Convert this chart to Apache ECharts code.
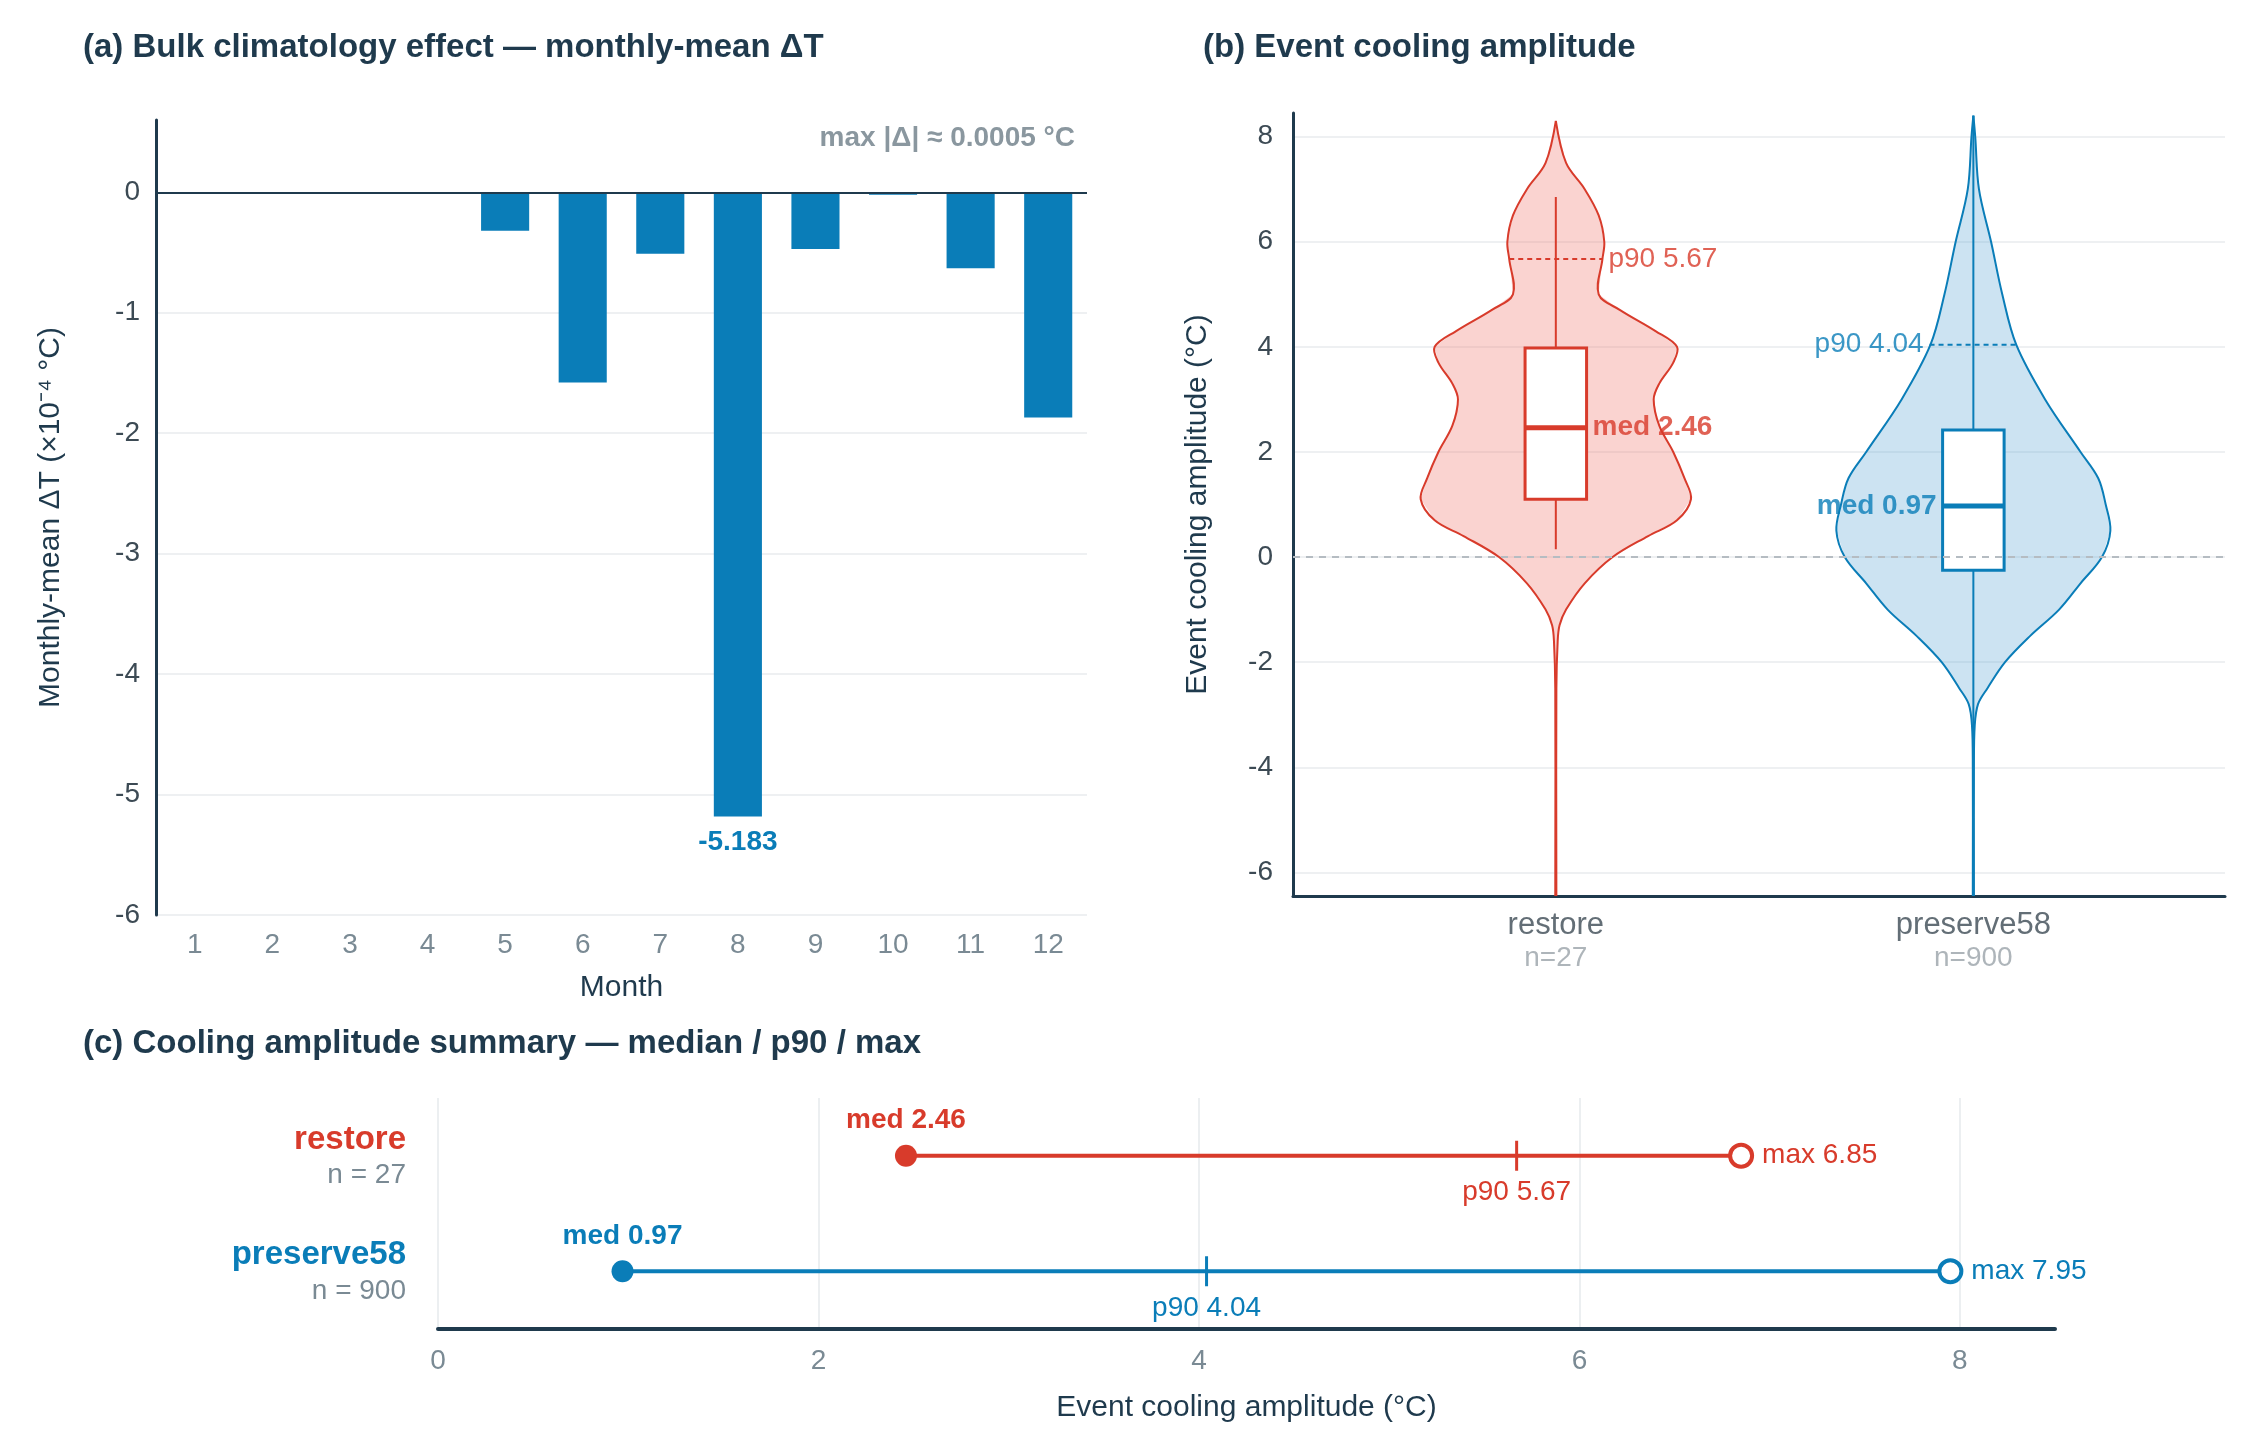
<!DOCTYPE html>
<html>
<head>
<meta charset="utf-8">
<script src="https://cdn.jsdelivr.net/npm/echarts@6/dist/echarts.min.js"></script>
<style>html,body{margin:0;background:#fff}#main{width:2255px;height:1432px}</style>
</head>
<body>
<div id="main"></div>
<script>
// panel (a)
var months = ['1','2','3','4','5','6','7','8','9','10','11','12'];
var monthlyDelta = [0, 0, 0, -0.01, -0.32, -1.58, -0.51, -5.183, -0.47, -0.02, -0.63, -1.87];
var aTicks = [-6, -5, -4, -3, -2, -1, 0];

// panel (b) violins: y positions and half widths (x-axis units)
var restoreY = [8.3,7.5,7,6.5,6,5.67,5,4.7,4.3,4,3.7,3.3,3,2.5,2,1.5,1.1,0.7,0.4,0,-0.5,-1,-1.3,-1.6,-2.5,-6.45];
var restoreW = [0,.011,.031,.046,.052,.050,.046,.069,.107,.130,.126,.111,.105,.111,.126,.138,.145,.130,.099,.061,.031,.011,.004,.002,.0006,.0006];
var preserveY = [8.4,8,7,6,5,4.04,3,2,1.5,1,0.5,0,-0.5,-1,-1.5,-2,-2.5,-2.8,-3.2,-4,-6.45];
var preserveW = [0,.002,.006,.019,.031,.046,.077,.115,.134,.142,.147,.138,.115,.092,.061,.034,.015,.005,.0015,.0006,.0006];
var groups = ['restore', 'preserve58'];
var groupN = [27, 900];
var groupPos = [0.282, 0.73];
var q1 = [1.1, -0.25];
var q3 = [3.98, 2.42];
var med = [2.46, 0.97];
var p90 = [5.67, 4.04];
var maxv = [6.85, 7.95];
var whiskLo = [0.15, -6.45];
var whiskHi = [6.85, 8.4];
var p90Half = [0.05, 0.047];
var bTicks = [-6, -4, -2, 0, 2, 4, 6, 8];
var cTicks = [0, 2, 4, 6, 8];

var RED = '#d83b2b', BLUE = '#0a7db8', DARK = '#1f3a4d', GREY = '#7a8a94';
var colors = [RED, BLUE];
var fills = ['rgba(240,130,120,0.35)', 'rgba(100,170,215,0.33)'];
var violins = [[restoreY, restoreW], [preserveY, preserveW]];
var FONT = '"Liberation Sans", Arial, sans-serif';

var chart = echarts.init(document.getElementById('main'));

function violinItem(params, api) {
    var i = params.dataIndex;
    var ys = violins[i][0], ws = violins[i][1], c = groupPos[i];
    var right = [], left = [];
    for (var k = 0; k < ys.length; k++) right.push(api.coord([c + ws[k], ys[k]]));
    for (var k = ys.length - 1; k >= 0; k--) left.push(api.coord([c - ws[k], ys[k]]));
    var bh = 0.033;
    var b0 = api.coord([c - bh, q3[i]]), b1 = api.coord([c + bh, q1[i]]);
    var m0 = api.coord([c - bh, med[i]]), m1 = api.coord([c + bh, med[i]]);
    var pl = api.coord([c - p90Half[i], p90[i]]), pr = api.coord([c + p90Half[i], p90[i]]);
    var wl = api.coord([c, whiskLo[i]]), wh = api.coord([c, whiskHi[i]]);
    var col = colors[i];
    return {
        type: 'group',
        children: [
            {type: 'polygon', shape: {points: right.concat(left)}, style: {fill: fills[i], stroke: null}},
            {type: 'polyline', shape: {points: right, smooth: 0.35}, style: {fill: null, stroke: col, lineWidth: 2}},
            {type: 'polyline', shape: {points: left, smooth: 0.35}, style: {fill: null, stroke: col, lineWidth: 2}},
            {type: 'line', shape: {x1: wl[0], y1: wl[1], x2: wh[0], y2: wh[1]}, style: {stroke: col, lineWidth: 2}},
            {type: 'line', shape: {x1: pl[0], y1: pl[1], x2: pr[0], y2: pr[1]}, style: {stroke: col, lineWidth: 2, lineDash: [5, 4]}},
            {type: 'rect', shape: {x: b0[0], y: b0[1], width: b1[0] - b0[0], height: b1[1] - b0[1]}, style: {fill: '#fff', stroke: col, lineWidth: 3}},
            {type: 'line', shape: {x1: m0[0], y1: m0[1], x2: m1[0], y2: m1[1]}, style: {stroke: col, lineWidth: 5}}
        ]
    };
}

var titleStyle = {fontSize: 33, fontWeight: 'bold', color: DARK, fontFamily: FONT};
var tickLabel = {fontSize: 28, color: GREY, fontFamily: FONT};
var nameStyle = {fontSize: 30, color: DARK, fontFamily: FONT};

var series = [];
series.push({
    type: 'bar', xAxisIndex: 0, yAxisIndex: 0, data: monthlyDelta, barWidth: '62%',
    itemStyle: {color: BLUE},
    label: {
        show: true, position: 'bottom', distance: 12,
        formatter: function (p) { return p.dataIndex === 7 ? p.value.toFixed(3) : ''; },
        fontSize: 28, fontWeight: 'bold', color: BLUE, fontFamily: FONT
    },
    markLine: {silent: true, symbol: 'none', label: {show: false}, lineStyle: {color: DARK, type: 'solid', width: 2}, data: [{yAxis: 0}]}
});
series.push({
    type: 'custom', xAxisIndex: 1, yAxisIndex: 1, renderItem: violinItem, data: [0, 1], z: 3,
    markLine: {silent: true, symbol: 'none', label: {show: false}, lineStyle: {color: '#b5bcc2', type: [7, 6], width: 2}, data: [{yAxis: 0}]}
});
// panel b labels
series.push({
    type: 'scatter', xAxisIndex: 1, yAxisIndex: 1, symbolSize: 0, z: 5,
    data: [
        {value: [groupPos[0] + 0.033, med[0]], label: {position: 'right', formatter: 'med ' + med[0].toFixed(2), color: RED, fontWeight: 'bold'}},
        {value: [groupPos[1] - 0.033, med[1]], label: {position: 'left', formatter: 'med ' + med[1].toFixed(2), color: BLUE, fontWeight: 'bold'}},
        {value: [groupPos[0] + p90Half[0], p90[0]], label: {position: 'right', formatter: 'p90 ' + p90[0].toFixed(2), color: RED}},
        {value: [groupPos[1] - p90Half[1], p90[1]], label: {position: 'left', formatter: 'p90 ' + p90[1].toFixed(2), color: BLUE}}
    ],
    label: {show: true, distance: 6, fontSize: 28, fontFamily: FONT}
});
series.push({
    type: 'scatter', xAxisIndex: 1, yAxisIndex: 1, symbolSize: 0,
    data: groups.map(function (g, i) { return {value: [groupPos[i], -6.45], name: g}; }),
    label: {
        show: true, position: 'bottom', distance: 12, fontFamily: FONT,
        formatter: function (p) { return '{a|' + groups[p.dataIndex] + '}\n{b|n=' + groupN[p.dataIndex] + '}'; },
        rich: {a: {fontSize: 31, color: '#3c4a54', lineHeight: 34, fontFamily: FONT}, b: {fontSize: 28, color: '#9aa3a9', lineHeight: 32, fontFamily: FONT}}
    }
});
// panel c
for (var i = 0; i < 2; i++) {
    var col = colors[i], g = groups[i];
    series.push({
        type: 'line', xAxisIndex: 2, yAxisIndex: 2, data: [[med[i], g], [maxv[i], g]],
        symbol: 'none', lineStyle: {color: col, width: 4}, z: 2
    });
    series.push({
        type: 'scatter', xAxisIndex: 2, yAxisIndex: 2, z: 4,
        data: [
            {value: [med[i], g], symbol: 'circle', symbolSize: 22, itemStyle: {color: col, opacity: 1},
             label: {show: true, position: 'top', distance: 10, formatter: 'med ' + med[i].toFixed(2), fontWeight: 'bold'}},
            {value: [p90[i], g], symbol: 'rect', symbolSize: [3, 30], itemStyle: {color: col, opacity: 1},
             label: {show: true, position: 'bottom', distance: 8, formatter: 'p90 ' + p90[i].toFixed(2)}},
            {value: [maxv[i], g], symbol: 'circle', symbolSize: 22, itemStyle: {color: '#fff', borderColor: col, borderWidth: 4, opacity: 1},
             label: {show: true, position: 'right', distance: 8, formatter: 'max ' + maxv[i].toFixed(2)}}
        ],
        label: {color: col, fontSize: 28, fontFamily: FONT}
    });
}

chart.setOption({
    backgroundColor: '#fff',
    animation: false,
    title: [
        {text: '(a) Bulk climatology effect — monthly-mean ΔT', left: 78, top: 26, textStyle: titleStyle},
        {text: '(b) Event cooling amplitude', left: 1198, top: 26, textStyle: titleStyle},
        {text: '(c) Cooling amplitude summary — median / p90 / max', left: 78, top: 1022, textStyle: titleStyle},
        {text: 'max |Δ| ≈ 0.0005 °C', right: 1175, top: 119, textStyle: {fontSize: 28, fontWeight: 'bold', color: '#8a979f', fontFamily: FONT}}
    ],
    grid: [
        {left: 156, top: 120, width: 931, height: 795},
        {left: 1293, top: 113, width: 932, height: 783},
        {left: 438, top: 1098, width: 1617, height: 231}
    ],
    xAxis: [
        {type: 'category', gridIndex: 0, data: months, axisLine: {show: false}, axisTick: {show: false},
         axisLabel: Object.assign({margin: 16}, tickLabel),
         name: 'Month', nameLocation: 'middle', nameGap: 58, nameTextStyle: nameStyle},
        {type: 'value', gridIndex: 1, min: 0, max: 1, axisLine: {show: true, onZero: false, lineStyle: {color: DARK, width: 3}},
         axisTick: {show: false}, axisLabel: {show: false}, splitLine: {show: false}},
        {type: 'value', gridIndex: 2, min: 0, max: 8.5, axisLine: {show: true, lineStyle: {color: DARK, width: 4}},
         axisTick: {show: false, customValues: cTicks},
         axisLabel: Object.assign({margin: 18, customValues: cTicks}, tickLabel),
         splitLine: {show: true, lineStyle: {color: '#eceff1', width: 2}},
         name: 'Event cooling amplitude (°C)', nameLocation: 'middle', nameGap: 64, nameTextStyle: nameStyle}
    ],
    yAxis: [
        {type: 'value', gridIndex: 0, min: -6, max: 0.6,
         axisLine: {show: true, lineStyle: {color: DARK, width: 3}}, axisTick: {show: false, customValues: aTicks},
         axisLabel: Object.assign({margin: 16, customValues: aTicks}, tickLabel, {color: '#3c4a54'}),
         splitLine: {show: true, lineStyle: {color: '#eef0f2', width: 2}},
         name: 'Monthly-mean ΔT (×10⁻⁴ °C)', nameLocation: 'middle', nameGap: 90, nameTextStyle: nameStyle},
        {type: 'value', gridIndex: 1, min: -6.45, max: 8.45,
         axisLine: {show: true, lineStyle: {color: DARK, width: 3}}, axisTick: {show: false, customValues: bTicks},
         axisLabel: Object.assign({margin: 20, customValues: bTicks}, tickLabel, {color: '#3c4a54'}),
         splitLine: {show: true, lineStyle: {color: '#eef0f2', width: 2}},
         name: 'Event cooling amplitude (°C)', nameLocation: 'middle', nameGap: 80, nameTextStyle: nameStyle},
        {type: 'category', gridIndex: 2, data: groups, inverse: true, axisLine: {show: false}, axisTick: {show: false},
         axisLabel: {
             margin: 32, align: 'right', fontFamily: FONT,
             formatter: function (v, idx) { return '{' + (idx === 0 ? 'r' : 'p') + '|' + v + '}\n{n|n = ' + groupN[idx] + '}'; },
             rich: {
                 r: {fontSize: 33, fontWeight: 'bold', color: RED, align: 'right', lineHeight: 40, fontFamily: FONT},
                 p: {fontSize: 33, fontWeight: 'bold', color: BLUE, align: 'right', lineHeight: 40, fontFamily: FONT},
                 n: {fontSize: 28, color: GREY, align: 'right', lineHeight: 32, fontFamily: FONT}
             }
         }}
    ],
    series: series
});
</script>
</body>
</html>
